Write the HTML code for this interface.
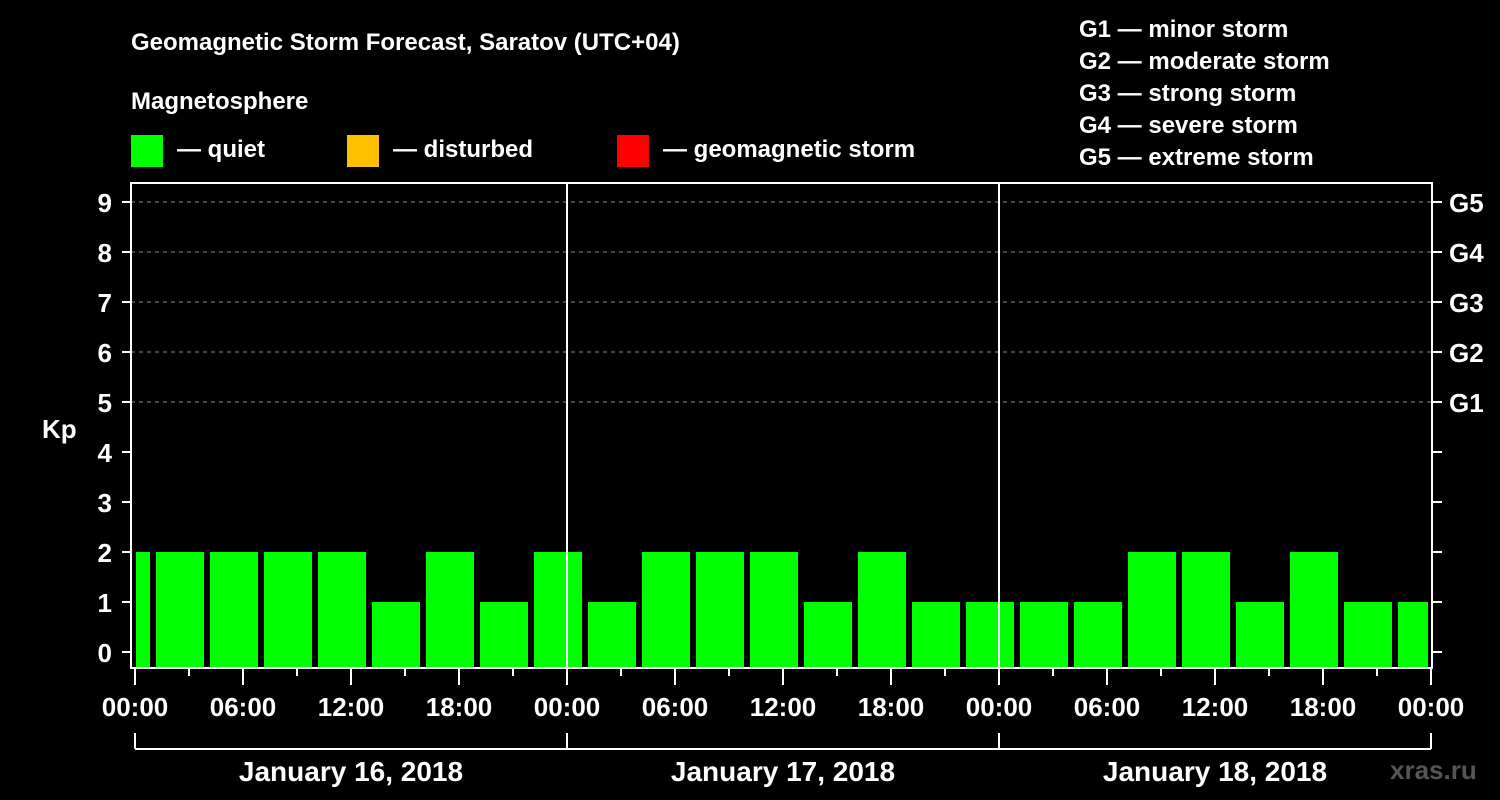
<!DOCTYPE html>
<html><head><meta charset="utf-8"><style>
body{margin:0;background:#000;width:1500px;height:800px;overflow:hidden}
svg{display:block;font-family:"Liberation Sans",Arial,sans-serif;font-weight:bold}
</style></head><body>
<svg id="c" width="1500" height="800" viewBox="0 0 1500 800">
<rect width="1500" height="800" fill="#000"/>
<text x="131" y="50" fill="#fff" font-size="24">Geomagnetic Storm Forecast, Saratov (UTC+04)</text>
<text x="131" y="109" fill="#fff" font-size="24">Magnetosphere</text>
<g><rect x="131" y="135" width="32" height="32" fill="#00ff00"/><text x="177" y="157" fill="#fff" font-size="24">— quiet</text></g>
<g><rect x="347" y="135" width="32" height="32" fill="#ffc000"/><text x="393" y="157" fill="#fff" font-size="24">— disturbed</text></g>
<g><rect x="617" y="135" width="32" height="32" fill="#ff0000"/><text x="663" y="157" fill="#fff" font-size="24">— geomagnetic storm</text></g>
<g fill="#fff" font-size="24">
<text x="1079" y="37">G1 — minor storm</text>
<text x="1079" y="69">G2 — moderate storm</text>
<text x="1079" y="101">G3 — strong storm</text>
<text x="1079" y="133">G4 — severe storm</text>
<text x="1079" y="165">G5 — extreme storm</text>
</g>
<text x="42" y="438" fill="#fff" font-size="26">Kp</text>
<text x="1390" y="779" fill="#555" font-size="26">xras.ru</text>
<g id="plot"></g>
</svg>
<script>
const kpValues=[2,2,2,2,2,1,2,1,2,1,2,2,2,1,2,1,1,1,1,2,2,1,2,1,1];
const slotStartHours=[-2,1,4,7,10,13,16,19,22,25,28,31,34,37,40,43,46,49,52,55,58,61,64,67,70];
const yTicks=[0,1,2,3,4,5,6,7,8,9];
const gLabels=["G1","G2","G3","G4","G5"];
const gLevels=[5,6,7,8,9];
const xTickLabels=["00:00","06:00","12:00","18:00","00:00","06:00","12:00","18:00","00:00","06:00","12:00","18:00","00:00"];
const dayLabels=["January 16, 2018","January 17, 2018","January 18, 2018"];

const NS="http://www.w3.org/2000/svg";
const g=document.getElementById('plot');
const X=h=>135+18*h, Y=k=>652-50*k;
const L=131,R=1432,T=183,B=668;
function mk(t,a,txt){const e=document.createElementNS(NS,t);for(const k in a)e.setAttribute(k,a[k]);if(txt!=null)e.textContent=txt;g.appendChild(e);return e;}
// grid
gLevels.forEach((v,i)=>{
const e=mk('line',{x1:L,x2:R,y1:Y(v),y2:Y(v),stroke:'#888','stroke-dasharray':'4,4','stroke-width':1});


const t=mk('text',{x:1449,y:Y(v)+10,fill:'#fff','font-size':26},gLabels[i]);


});
// bars
kpValues.forEach((v,i)=>{
const s=slotStartHours[i];
const x0=Math.max(X(s)+3,136), x1=Math.min(X(s+3)-3,1428);
const color=v>=5?'#ff0000':(v>=4?'#ffc000':'#00ff00');
const r=mk('rect',{x:x0,y:Y(v),width:x1-x0,height:B-Y(v),fill:color});


});
// day separators
[1,2].forEach(d=>{const e=mk('line',{x1:X(24*d),x2:X(24*d),y1:T,y2:B,stroke:'#fff','stroke-width':2});

});
// frame
const f=mk('rect',{x:L,y:T,width:R-L,height:B-T,fill:'none',stroke:'#fff','stroke-width':2});


// y ticks
yTicks.forEach(v=>{
mk('line',{x1:122,x2:L,y1:Y(v),y2:Y(v),stroke:'#fff','stroke-width':2});
mk('line',{x1:R,x2:1442,y1:Y(v),y2:Y(v),stroke:'#fff','stroke-width':2});
const t=mk('text',{x:112,y:Y(v)+10,fill:'#fff','font-size':26,'text-anchor':'end'},String(v));


});
// x ticks
for(let h=0;h<=72;h+=3){const long=h%6===0;
mk('line',{x1:X(h),x2:X(h),y1:B,y2:long?685:676,stroke:'#fff','stroke-width':2});}
xTickLabels.forEach((s,i)=>{const t=mk('text',{x:X(6*i),y:716,fill:'#fff','font-size':26,'text-anchor':'middle'},s);

});
// day bracket
mk('line',{x1:X(0),x2:X(72),y1:749,y2:749,stroke:'#fff','stroke-width':2});
for(let d=0;d<=3;d++)mk('line',{x1:X(24*d),x2:X(24*d),y1:733,y2:749,stroke:'#fff','stroke-width':2});
dayLabels.forEach((s,i)=>{const t=mk('text',{x:X(24*i+12),y:781,fill:'#fff','font-size':28,'text-anchor':'middle'},s);

});
</script>
</body></html>
